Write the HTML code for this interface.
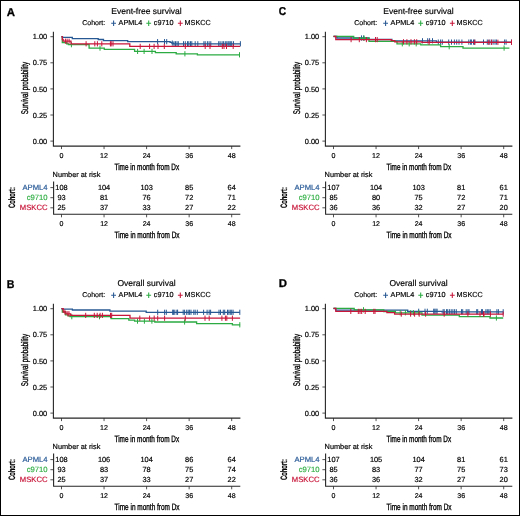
<!DOCTYPE html>
<html><head><meta charset="utf-8"><style>
html,body{margin:0;padding:0;background:#fff;}
#fig{position:relative;width:520px;height:516px;box-sizing:border-box;border:1px solid #000;overflow:hidden;background:#fff;}
svg{position:absolute;left:-1px;top:-1px;will-change:transform;}
text{font-family:"Liberation Sans", sans-serif;text-rendering:geometricPrecision;stroke:currentColor;stroke-width:0.18px;}
.c{stroke-width:0.35px;}
</style></head><body><div id="fig">
<svg width="520" height="516" viewBox="0 0 520 516" fill="#000">
<g transform="translate(0,0)">
<text x="6.7" y="15.5" font-size="11.4" font-weight="bold" style="stroke-width:0.3px" fill="#000">A</text>
<text x="146.5" y="14.2" font-size="8.5" text-anchor="middle">Event-free survival</text>
<text x="82.2" y="25.2" font-size="7">Cohort:</text>
<path d="M111.2 23.3H116M113.6 20.6V26.1" stroke="#275893" stroke-width="1.05" fill="none"/>
<text x="118.6" y="25.2" font-size="7.25">APML4</text>
<path d="M146.3 23.3H151.1M148.7 20.6V26.1" stroke="#2bab42" stroke-width="1.05" fill="none"/>
<text x="153.8" y="25.2" font-size="7.25">c9710</text>
<path d="M177.9 23.3H182.7M180.3 20.6V26.1" stroke="#c8163a" stroke-width="1.05" fill="none"/>
<text x="184.5" y="25.2" font-size="7.25">MSKCC</text>
<path d="M53.4 31.7V146.1H240.4" stroke="#262626" stroke-width="1.1" fill="none"/>
<path d="M50.4 36.7H53.4" stroke="#262626" stroke-width="0.8"/>
<text x="47.2" y="39.3" font-size="7.4" text-anchor="end">1.00</text>
<path d="M50.4 62.8H53.4" stroke="#262626" stroke-width="0.8"/>
<text x="47.2" y="65.4" font-size="7.4" text-anchor="end">0.75</text>
<path d="M50.4 88.9H53.4" stroke="#262626" stroke-width="0.8"/>
<text x="47.2" y="91.5" font-size="7.4" text-anchor="end">0.50</text>
<path d="M50.4 115H53.4" stroke="#262626" stroke-width="0.8"/>
<text x="47.2" y="117.6" font-size="7.4" text-anchor="end">0.25</text>
<path d="M50.4 141.1H53.4" stroke="#262626" stroke-width="0.8"/>
<text x="47.2" y="143.7" font-size="7.4" text-anchor="end">0.00</text>
<path d="M61.5 146.1V149.1" stroke="#262626" stroke-width="0.8"/>
<text x="61.5" y="157.7" font-size="7.1" text-anchor="middle">0</text>
<path d="M104.05 146.1V149.1" stroke="#262626" stroke-width="0.8"/>
<text x="104.05" y="157.7" font-size="7.1" text-anchor="middle">12</text>
<path d="M146.6 146.1V149.1" stroke="#262626" stroke-width="0.8"/>
<text x="146.6" y="157.7" font-size="7.1" text-anchor="middle">24</text>
<path d="M189.15 146.1V149.1" stroke="#262626" stroke-width="0.8"/>
<text x="189.15" y="157.7" font-size="7.1" text-anchor="middle">36</text>
<path d="M231.7 146.1V149.1" stroke="#262626" stroke-width="0.8"/>
<text x="231.7" y="157.7" font-size="7.1" text-anchor="middle">48</text>
<text x="114.5" y="170.1" font-size="9.2" class="c" textLength="64.6" lengthAdjust="spacingAndGlyphs">Time in month from Dx</text>
<text transform="translate(27.7,114.2) rotate(-90)" x="0" y="0" font-size="9.6" class="c" textLength="52.3" lengthAdjust="spacingAndGlyphs">Survival probability</text>
<path d="M61.5 36.6H62.3V42.5H66.7V43.8H68.4V44.7H89.1V48.1H104.3V49.4H134.6V51.4H155.4V52.7H176.2V53.8H197.4V54.8H239.5" stroke="#2bab42" stroke-width="1.3" fill="none"/>
<path d="M71.4 42.1V47.3M100 45.5V50.7M137.6 48.8V54M144.1 48.8V54M152 48.8V54M184.9 51.2V56.4M239.5 52.2V57.4" stroke="#2bab42" stroke-width="1" fill="none"/>
<path d="M61.5 36.6H62.5V37.3H72.3V38.6H98.2V39.5H103.5V40.6H127.7V41.65H170.1V42.4H171.8V43.1H173.5V43.8H240.4" stroke="#275893" stroke-width="1.3" fill="none"/>
<path d="M157.6 39.05V44.25M164.5 39.05V44.25M166.7 39.05V44.25M172.3 40.5V45.7M174 41.2V46.4M175.5 41.2V46.4M177 41.2V46.4M178.3 41.2V46.4M183.5 41.2V46.4M185.3 41.2V46.4M187.5 41.2V46.4M188.8 41.2V46.4M190.5 41.2V46.4M191.8 41.2V46.4M195.2 41.2V46.4M197.8 41.2V46.4M203.9 41.2V46.4M205.2 41.2V46.4M207.4 41.2V46.4M209.1 41.2V46.4M210.8 41.2V46.4M218.7 41.2V46.4M220.1 41.2V46.4M222.1 41.2V46.4M223.6 41.2V46.4M225.3 41.2V46.4M226.8 41.2V46.4M228.1 41.2V46.4M229.1 41.2V46.4M230.3 41.2V46.4M231.7 41.2V46.4M233.5 41.2V46.4M240.4 41.2V46.4" stroke="#275893" stroke-width="1" fill="none"/>
<path d="M61.5 36.6H62.3V39.5H63.2V41.2H71V43.8H129.8V46.4H240.1" stroke="#c8163a" stroke-width="1.3" fill="none"/>
<path d="M65.4 38.6V43.8M67.1 38.6V43.8M69.1 38.6V43.8M86.1 41.2V46.4M94.8 41.2V46.4M97.4 41.2V46.4M101.8 41.2V46.4M110.4 41.2V46.4M111.2 41.2V46.4M113 41.2V46.4M140.2 43.8V49M149.6 43.8V49M154.1 43.8V49M158 43.8V49M164.3 43.8V49M185.3 43.8V49M205.2 43.8V49M210 43.8V49M222.3 43.8V49M224 43.8V49M226.5 43.8V49M233.2 43.8V49" stroke="#c8163a" stroke-width="1" fill="none"/>
<text x="52.6" y="177.4" font-size="7.35">Number at risk</text>
<path d="M53.6 181.4V214.3H240.3" stroke="#262626" stroke-width="1.1" fill="none"/>
<path d="M50.4 187.6H53.6" stroke="#262626" stroke-width="0.8"/>
<text x="47.6" y="190.1" font-size="7.7" text-anchor="end" fill="#2b5c98" style="color:#2b5c98">APML4</text>
<path d="M50.4 197.7H53.6" stroke="#262626" stroke-width="0.8"/>
<text x="47.6" y="200.2" font-size="7.7" text-anchor="end" fill="#35b048" style="color:#35b048">c9710</text>
<path d="M50.4 207.8H53.6" stroke="#262626" stroke-width="0.8"/>
<text x="47.6" y="210.3" font-size="7.7" text-anchor="end" fill="#c8163a" style="color:#c8163a">MSKCC</text>
<text x="61.5" y="190.2" font-size="7.4" text-anchor="middle">108</text>
<text x="104.05" y="190.2" font-size="7.4" text-anchor="middle">104</text>
<text x="146.6" y="190.2" font-size="7.4" text-anchor="middle">103</text>
<text x="189.15" y="190.2" font-size="7.4" text-anchor="middle">85</text>
<text x="231.7" y="190.2" font-size="7.4" text-anchor="middle">64</text>
<text x="61.5" y="200.3" font-size="7.4" text-anchor="middle">93</text>
<text x="104.05" y="200.3" font-size="7.4" text-anchor="middle">81</text>
<text x="146.6" y="200.3" font-size="7.4" text-anchor="middle">76</text>
<text x="189.15" y="200.3" font-size="7.4" text-anchor="middle">72</text>
<text x="231.7" y="200.3" font-size="7.4" text-anchor="middle">71</text>
<text x="61.5" y="210.4" font-size="7.4" text-anchor="middle">25</text>
<text x="104.05" y="210.4" font-size="7.4" text-anchor="middle">37</text>
<text x="146.6" y="210.4" font-size="7.4" text-anchor="middle">33</text>
<text x="189.15" y="210.4" font-size="7.4" text-anchor="middle">27</text>
<text x="231.7" y="210.4" font-size="7.4" text-anchor="middle">22</text>
<path d="M61.5 214.3V217.3" stroke="#262626" stroke-width="0.8"/>
<text x="61.5" y="225.8" font-size="7" text-anchor="middle">0</text>
<path d="M104.05 214.3V217.3" stroke="#262626" stroke-width="0.8"/>
<text x="104.05" y="225.8" font-size="7" text-anchor="middle">12</text>
<path d="M146.6 214.3V217.3" stroke="#262626" stroke-width="0.8"/>
<text x="146.6" y="225.8" font-size="7" text-anchor="middle">24</text>
<path d="M189.15 214.3V217.3" stroke="#262626" stroke-width="0.8"/>
<text x="189.15" y="225.8" font-size="7" text-anchor="middle">36</text>
<path d="M231.7 214.3V217.3" stroke="#262626" stroke-width="0.8"/>
<text x="231.7" y="225.8" font-size="7" text-anchor="middle">48</text>
<text x="114.6" y="238.1" font-size="9.2" class="c" textLength="65" lengthAdjust="spacingAndGlyphs">Time in month from Dx</text>
<text transform="translate(15,207.9) rotate(-90)" x="0" y="0" font-size="9.4" font-weight="bold" textLength="20.8" lengthAdjust="spacingAndGlyphs">Cohort:</text>
</g>
<g transform="translate(0,272)">
<text x="6.7" y="15.6" font-size="11.4" font-weight="bold" style="stroke-width:0.3px" fill="#000" textLength="7.7" lengthAdjust="spacingAndGlyphs">B</text>
<text x="146.5" y="14.2" font-size="8.5" text-anchor="middle">Overall survival</text>
<text x="82.2" y="25.2" font-size="7">Cohort:</text>
<path d="M111.2 23.3H116M113.6 20.6V26.1" stroke="#275893" stroke-width="1.05" fill="none"/>
<text x="118.6" y="25.2" font-size="7.25">APML4</text>
<path d="M146.3 23.3H151.1M148.7 20.6V26.1" stroke="#2bab42" stroke-width="1.05" fill="none"/>
<text x="153.8" y="25.2" font-size="7.25">c9710</text>
<path d="M177.9 23.3H182.7M180.3 20.6V26.1" stroke="#c8163a" stroke-width="1.05" fill="none"/>
<text x="184.5" y="25.2" font-size="7.25">MSKCC</text>
<path d="M53.4 31.7V146.1H240.4" stroke="#262626" stroke-width="1.1" fill="none"/>
<path d="M50.4 36.7H53.4" stroke="#262626" stroke-width="0.8"/>
<text x="47.2" y="39.3" font-size="7.4" text-anchor="end">1.00</text>
<path d="M50.4 62.8H53.4" stroke="#262626" stroke-width="0.8"/>
<text x="47.2" y="65.4" font-size="7.4" text-anchor="end">0.75</text>
<path d="M50.4 88.9H53.4" stroke="#262626" stroke-width="0.8"/>
<text x="47.2" y="91.5" font-size="7.4" text-anchor="end">0.50</text>
<path d="M50.4 115H53.4" stroke="#262626" stroke-width="0.8"/>
<text x="47.2" y="117.6" font-size="7.4" text-anchor="end">0.25</text>
<path d="M50.4 141.1H53.4" stroke="#262626" stroke-width="0.8"/>
<text x="47.2" y="143.7" font-size="7.4" text-anchor="end">0.00</text>
<path d="M61.5 146.1V149.1" stroke="#262626" stroke-width="0.8"/>
<text x="61.5" y="157.7" font-size="7.1" text-anchor="middle">0</text>
<path d="M104.05 146.1V149.1" stroke="#262626" stroke-width="0.8"/>
<text x="104.05" y="157.7" font-size="7.1" text-anchor="middle">12</text>
<path d="M146.6 146.1V149.1" stroke="#262626" stroke-width="0.8"/>
<text x="146.6" y="157.7" font-size="7.1" text-anchor="middle">24</text>
<path d="M189.15 146.1V149.1" stroke="#262626" stroke-width="0.8"/>
<text x="189.15" y="157.7" font-size="7.1" text-anchor="middle">36</text>
<path d="M231.7 146.1V149.1" stroke="#262626" stroke-width="0.8"/>
<text x="231.7" y="157.7" font-size="7.1" text-anchor="middle">48</text>
<text x="114.5" y="170.1" font-size="9.2" class="c" textLength="64.6" lengthAdjust="spacingAndGlyphs">Time in month from Dx</text>
<text transform="translate(27.7,114.2) rotate(-90)" x="0" y="0" font-size="9.6" class="c" textLength="52.3" lengthAdjust="spacingAndGlyphs">Survival probability</text>
<path d="M61.5 36.6H62.3V40H65.5V42.8H68.4V43.9H70V44.7H111V46.6H128.8V48.2H134.6V49.1H154.8V50H196.6V51.7H232.4V52.8H240.1" stroke="#2bab42" stroke-width="1.3" fill="none"/>
<path d="M71.8 42.1V47.3M99.5 42.1V47.3M137.5 46.5V51.7M144.4 46.5V51.7M151.9 46.5V51.7M184.6 47.4V52.6M239.8 50.2V55.4" stroke="#2bab42" stroke-width="1" fill="none"/>
<path d="M61.5 36.6H62.5V37.2H72.4V38H109.9V39.2H146.2V40.3H239.8" stroke="#275893" stroke-width="1.3" fill="none"/>
<path d="M157.7 37.7V42.9M164.6 37.7V42.9M166.3 37.7V42.9M172.7 37.7V42.9M173.4 37.7V42.9M174.8 37.7V42.9M176.9 37.7V42.9M177.6 37.7V42.9M183.2 37.7V42.9M184.6 37.7V42.9M186.7 37.7V42.9M188.2 37.7V42.9M189.6 37.7V42.9M191 37.7V42.9M193.8 37.7V42.9M195.2 37.7V42.9M197.3 37.7V42.9M203.6 37.7V42.9M207.1 37.7V42.9M209.2 37.7V42.9M210.6 37.7V42.9M219 37.7V42.9M220.5 37.7V42.9M223.3 37.7V42.9M224.7 37.7V42.9M227.5 37.7V42.9M228.9 37.7V42.9M230.3 37.7V42.9M231.7 37.7V42.9M233.1 37.7V42.9M239.8 37.7V42.9" stroke="#275893" stroke-width="1" fill="none"/>
<path d="M61.5 36.6H63.2V40H66V41.8H70.7V43.4H130V46.2H240.1" stroke="#c8163a" stroke-width="1.3" fill="none"/>
<path d="M64.9 37.4V42.6M67.8 39.2V44.4M69 39.2V44.4M85.7 40.8V46M94.3 40.8V46M97.2 40.8V46M100.1 40.8V46M102.4 40.8V46M110.5 40.8V46M111.7 40.8V46M139.8 43.6V48.8M149.6 43.6V48.8M154.2 43.6V48.8M157.7 43.6V48.8M164.6 43.6V48.8M185.3 43.6V48.8M205 43.6V48.8M209.2 43.6V48.8M221.9 43.6V48.8M225.4 43.6V48.8M226.8 43.6V48.8M232.4 43.6V48.8" stroke="#c8163a" stroke-width="1" fill="none"/>
<text x="52.6" y="177.4" font-size="7.35">Number at risk</text>
<path d="M53.6 181.4V214.3H240.3" stroke="#262626" stroke-width="1.1" fill="none"/>
<path d="M50.4 187.6H53.6" stroke="#262626" stroke-width="0.8"/>
<text x="47.6" y="190.1" font-size="7.7" text-anchor="end" fill="#2b5c98" style="color:#2b5c98">APML4</text>
<path d="M50.4 197.7H53.6" stroke="#262626" stroke-width="0.8"/>
<text x="47.6" y="200.2" font-size="7.7" text-anchor="end" fill="#35b048" style="color:#35b048">c9710</text>
<path d="M50.4 207.8H53.6" stroke="#262626" stroke-width="0.8"/>
<text x="47.6" y="210.3" font-size="7.7" text-anchor="end" fill="#c8163a" style="color:#c8163a">MSKCC</text>
<text x="61.5" y="190.2" font-size="7.4" text-anchor="middle">108</text>
<text x="104.05" y="190.2" font-size="7.4" text-anchor="middle">106</text>
<text x="146.6" y="190.2" font-size="7.4" text-anchor="middle">104</text>
<text x="189.15" y="190.2" font-size="7.4" text-anchor="middle">86</text>
<text x="231.7" y="190.2" font-size="7.4" text-anchor="middle">64</text>
<text x="61.5" y="200.3" font-size="7.4" text-anchor="middle">93</text>
<text x="104.05" y="200.3" font-size="7.4" text-anchor="middle">83</text>
<text x="146.6" y="200.3" font-size="7.4" text-anchor="middle">78</text>
<text x="189.15" y="200.3" font-size="7.4" text-anchor="middle">75</text>
<text x="231.7" y="200.3" font-size="7.4" text-anchor="middle">74</text>
<text x="61.5" y="210.4" font-size="7.4" text-anchor="middle">25</text>
<text x="104.05" y="210.4" font-size="7.4" text-anchor="middle">37</text>
<text x="146.6" y="210.4" font-size="7.4" text-anchor="middle">33</text>
<text x="189.15" y="210.4" font-size="7.4" text-anchor="middle">27</text>
<text x="231.7" y="210.4" font-size="7.4" text-anchor="middle">22</text>
<path d="M61.5 214.3V217.3" stroke="#262626" stroke-width="0.8"/>
<text x="61.5" y="225.8" font-size="7" text-anchor="middle">0</text>
<path d="M104.05 214.3V217.3" stroke="#262626" stroke-width="0.8"/>
<text x="104.05" y="225.8" font-size="7" text-anchor="middle">12</text>
<path d="M146.6 214.3V217.3" stroke="#262626" stroke-width="0.8"/>
<text x="146.6" y="225.8" font-size="7" text-anchor="middle">24</text>
<path d="M189.15 214.3V217.3" stroke="#262626" stroke-width="0.8"/>
<text x="189.15" y="225.8" font-size="7" text-anchor="middle">36</text>
<path d="M231.7 214.3V217.3" stroke="#262626" stroke-width="0.8"/>
<text x="231.7" y="225.8" font-size="7" text-anchor="middle">48</text>
<text x="114.6" y="238.1" font-size="9.2" class="c" textLength="65" lengthAdjust="spacingAndGlyphs">Time in month from Dx</text>
<text transform="translate(15,207.9) rotate(-90)" x="0" y="0" font-size="9.4" font-weight="bold" textLength="20.8" lengthAdjust="spacingAndGlyphs">Cohort:</text>
</g>
<g transform="translate(272,0)">
<text x="6.7" y="15.3" font-size="11.4" font-weight="bold" style="stroke-width:0.3px" fill="#000" textLength="7.4" lengthAdjust="spacingAndGlyphs">C</text>
<text x="146.5" y="14.2" font-size="8.5" text-anchor="middle">Event-free survival</text>
<text x="82.2" y="25.2" font-size="7">Cohort:</text>
<path d="M111.2 23.3H116M113.6 20.6V26.1" stroke="#275893" stroke-width="1.05" fill="none"/>
<text x="118.6" y="25.2" font-size="7.25">APML4</text>
<path d="M146.3 23.3H151.1M148.7 20.6V26.1" stroke="#2bab42" stroke-width="1.05" fill="none"/>
<text x="153.8" y="25.2" font-size="7.25">c9710</text>
<path d="M177.9 23.3H182.7M180.3 20.6V26.1" stroke="#c8163a" stroke-width="1.05" fill="none"/>
<text x="184.5" y="25.2" font-size="7.25">MSKCC</text>
<path d="M53.4 31.7V146.1H240.4" stroke="#262626" stroke-width="1.1" fill="none"/>
<path d="M50.4 36.7H53.4" stroke="#262626" stroke-width="0.8"/>
<text x="47.2" y="39.3" font-size="7.4" text-anchor="end">1.00</text>
<path d="M50.4 62.8H53.4" stroke="#262626" stroke-width="0.8"/>
<text x="47.2" y="65.4" font-size="7.4" text-anchor="end">0.75</text>
<path d="M50.4 88.9H53.4" stroke="#262626" stroke-width="0.8"/>
<text x="47.2" y="91.5" font-size="7.4" text-anchor="end">0.50</text>
<path d="M50.4 115H53.4" stroke="#262626" stroke-width="0.8"/>
<text x="47.2" y="117.6" font-size="7.4" text-anchor="end">0.25</text>
<path d="M50.4 141.1H53.4" stroke="#262626" stroke-width="0.8"/>
<text x="47.2" y="143.7" font-size="7.4" text-anchor="end">0.00</text>
<path d="M61.5 146.1V149.1" stroke="#262626" stroke-width="0.8"/>
<text x="61.5" y="157.7" font-size="7.1" text-anchor="middle">0</text>
<path d="M104.05 146.1V149.1" stroke="#262626" stroke-width="0.8"/>
<text x="104.05" y="157.7" font-size="7.1" text-anchor="middle">12</text>
<path d="M146.6 146.1V149.1" stroke="#262626" stroke-width="0.8"/>
<text x="146.6" y="157.7" font-size="7.1" text-anchor="middle">24</text>
<path d="M189.15 146.1V149.1" stroke="#262626" stroke-width="0.8"/>
<text x="189.15" y="157.7" font-size="7.1" text-anchor="middle">36</text>
<path d="M231.7 146.1V149.1" stroke="#262626" stroke-width="0.8"/>
<text x="231.7" y="157.7" font-size="7.1" text-anchor="middle">48</text>
<text x="114.5" y="170.1" font-size="9.2" class="c" textLength="64.6" lengthAdjust="spacingAndGlyphs">Time in month from Dx</text>
<text transform="translate(27.7,114.2) rotate(-90)" x="0" y="0" font-size="9.6" class="c" textLength="52.3" lengthAdjust="spacingAndGlyphs">Survival probability</text>
<path d="M61.5 36.5H64.9V38H97V39.5H119.9V40.8H164.5V42.1H239.5" stroke="#275893" stroke-width="1.3" fill="none"/>
<path d="M89.5 35.4V40.6M91.6 35.4V40.6M150.5 38.2V43.4M155.7 38.2V43.4M157.6 38.2V43.4M160.5 38.2V43.4M166.3 39.5V44.7M168.6 39.5V44.7M170.3 39.5V44.7M176.7 39.5V44.7M179.5 39.5V44.7M182.4 39.5V44.7M184.7 39.5V44.7M187 39.5V44.7M189.9 39.5V44.7M196.8 39.5V44.7M198.6 39.5V44.7M199.4 39.5V44.7M201.5 39.5V44.7M202.8 39.5V44.7M211.5 39.5V44.7M215.3 39.5V44.7M217.2 39.5V44.7M219.2 39.5V44.7M221.1 39.5V44.7M223 39.5V44.7M224.4 39.5V44.7M232.6 39.5V44.7M234.1 39.5V44.7M239.5 39.5V44.7" stroke="#275893" stroke-width="1" fill="none"/>
<path d="M61.5 36.4H81.7V38.2H97V41.3H125V43.8H148.8V44.9H168.6V46.7H191V48.1H237.4" stroke="#2bab42" stroke-width="1.3" fill="none"/>
<path d="M92.1 35.6V40.8M130.3 41.2V46.4M137.2 41.2V46.4M144.2 41.2V46.4M177.2 44.1V49.3M232.1 45.5V50.7" stroke="#2bab42" stroke-width="1" fill="none"/>
<path d="M61.5 36.4H63.8V39.6H119.3V40.6H122.8V41.8H150V42.3H239.5" stroke="#c8163a" stroke-width="1.3" fill="none"/>
<path d="M79.1 37V42.2M87.3 37V42.2M94.4 37V42.2M103.5 37V42.2M105.2 37V42.2M131.5 39.2V44.4M134.9 39.2V44.4M139 39.2V44.4M142.4 39.2V44.4M144.7 39.2V44.4M157 39.7V44.9M202.7 39.7V44.9M216.8 39.7V44.9M219.6 39.7V44.9M225.9 39.7V44.9M239.5 39.7V44.9" stroke="#c8163a" stroke-width="1" fill="none"/>
<text x="52.6" y="177.4" font-size="7.35">Number at risk</text>
<path d="M53.6 181.4V214.3H240.3" stroke="#262626" stroke-width="1.1" fill="none"/>
<path d="M50.4 187.6H53.6" stroke="#262626" stroke-width="0.8"/>
<text x="47.6" y="190.1" font-size="7.7" text-anchor="end" fill="#2b5c98" style="color:#2b5c98">APML4</text>
<path d="M50.4 197.7H53.6" stroke="#262626" stroke-width="0.8"/>
<text x="47.6" y="200.2" font-size="7.7" text-anchor="end" fill="#35b048" style="color:#35b048">c9710</text>
<path d="M50.4 207.8H53.6" stroke="#262626" stroke-width="0.8"/>
<text x="47.6" y="210.3" font-size="7.7" text-anchor="end" fill="#c8163a" style="color:#c8163a">MSKCC</text>
<text x="61.5" y="190.2" font-size="7.4" text-anchor="middle">107</text>
<text x="104.05" y="190.2" font-size="7.4" text-anchor="middle">104</text>
<text x="146.6" y="190.2" font-size="7.4" text-anchor="middle">103</text>
<text x="189.15" y="190.2" font-size="7.4" text-anchor="middle">81</text>
<text x="231.7" y="190.2" font-size="7.4" text-anchor="middle">61</text>
<text x="61.5" y="200.3" font-size="7.4" text-anchor="middle">85</text>
<text x="104.05" y="200.3" font-size="7.4" text-anchor="middle">80</text>
<text x="146.6" y="200.3" font-size="7.4" text-anchor="middle">75</text>
<text x="189.15" y="200.3" font-size="7.4" text-anchor="middle">72</text>
<text x="231.7" y="200.3" font-size="7.4" text-anchor="middle">71</text>
<text x="61.5" y="210.4" font-size="7.4" text-anchor="middle">36</text>
<text x="104.05" y="210.4" font-size="7.4" text-anchor="middle">36</text>
<text x="146.6" y="210.4" font-size="7.4" text-anchor="middle">32</text>
<text x="189.15" y="210.4" font-size="7.4" text-anchor="middle">27</text>
<text x="231.7" y="210.4" font-size="7.4" text-anchor="middle">20</text>
<path d="M61.5 214.3V217.3" stroke="#262626" stroke-width="0.8"/>
<text x="61.5" y="225.8" font-size="7" text-anchor="middle">0</text>
<path d="M104.05 214.3V217.3" stroke="#262626" stroke-width="0.8"/>
<text x="104.05" y="225.8" font-size="7" text-anchor="middle">12</text>
<path d="M146.6 214.3V217.3" stroke="#262626" stroke-width="0.8"/>
<text x="146.6" y="225.8" font-size="7" text-anchor="middle">24</text>
<path d="M189.15 214.3V217.3" stroke="#262626" stroke-width="0.8"/>
<text x="189.15" y="225.8" font-size="7" text-anchor="middle">36</text>
<path d="M231.7 214.3V217.3" stroke="#262626" stroke-width="0.8"/>
<text x="231.7" y="225.8" font-size="7" text-anchor="middle">48</text>
<text x="114.6" y="238.1" font-size="9.2" class="c" textLength="65" lengthAdjust="spacingAndGlyphs">Time in month from Dx</text>
<text transform="translate(15,207.9) rotate(-90)" x="0" y="0" font-size="9.4" font-weight="bold" textLength="20.8" lengthAdjust="spacingAndGlyphs">Cohort:</text>
</g>
<g transform="translate(272,272)">
<text x="6.7" y="15.3" font-size="11.4" font-weight="bold" style="stroke-width:0.3px" fill="#000">D</text>
<text x="146.5" y="14.2" font-size="8.5" text-anchor="middle">Overall survival</text>
<text x="82.2" y="25.2" font-size="7">Cohort:</text>
<path d="M111.2 23.3H116M113.6 20.6V26.1" stroke="#275893" stroke-width="1.05" fill="none"/>
<text x="118.6" y="25.2" font-size="7.25">APML4</text>
<path d="M146.3 23.3H151.1M148.7 20.6V26.1" stroke="#2bab42" stroke-width="1.05" fill="none"/>
<text x="153.8" y="25.2" font-size="7.25">c9710</text>
<path d="M177.9 23.3H182.7M180.3 20.6V26.1" stroke="#c8163a" stroke-width="1.05" fill="none"/>
<text x="184.5" y="25.2" font-size="7.25">MSKCC</text>
<path d="M53.4 31.7V146.1H240.4" stroke="#262626" stroke-width="1.1" fill="none"/>
<path d="M50.4 36.7H53.4" stroke="#262626" stroke-width="0.8"/>
<text x="47.2" y="39.3" font-size="7.4" text-anchor="end">1.00</text>
<path d="M50.4 62.8H53.4" stroke="#262626" stroke-width="0.8"/>
<text x="47.2" y="65.4" font-size="7.4" text-anchor="end">0.75</text>
<path d="M50.4 88.9H53.4" stroke="#262626" stroke-width="0.8"/>
<text x="47.2" y="91.5" font-size="7.4" text-anchor="end">0.50</text>
<path d="M50.4 115H53.4" stroke="#262626" stroke-width="0.8"/>
<text x="47.2" y="117.6" font-size="7.4" text-anchor="end">0.25</text>
<path d="M50.4 141.1H53.4" stroke="#262626" stroke-width="0.8"/>
<text x="47.2" y="143.7" font-size="7.4" text-anchor="end">0.00</text>
<path d="M61.5 146.1V149.1" stroke="#262626" stroke-width="0.8"/>
<text x="61.5" y="157.7" font-size="7.1" text-anchor="middle">0</text>
<path d="M104.05 146.1V149.1" stroke="#262626" stroke-width="0.8"/>
<text x="104.05" y="157.7" font-size="7.1" text-anchor="middle">12</text>
<path d="M146.6 146.1V149.1" stroke="#262626" stroke-width="0.8"/>
<text x="146.6" y="157.7" font-size="7.1" text-anchor="middle">24</text>
<path d="M189.15 146.1V149.1" stroke="#262626" stroke-width="0.8"/>
<text x="189.15" y="157.7" font-size="7.1" text-anchor="middle">36</text>
<path d="M231.7 146.1V149.1" stroke="#262626" stroke-width="0.8"/>
<text x="231.7" y="157.7" font-size="7.1" text-anchor="middle">48</text>
<text x="114.5" y="170.1" font-size="9.2" class="c" textLength="64.6" lengthAdjust="spacingAndGlyphs">Time in month from Dx</text>
<text transform="translate(27.7,114.2) rotate(-90)" x="0" y="0" font-size="9.6" class="c" textLength="52.3" lengthAdjust="spacingAndGlyphs">Survival probability</text>
<path d="M61.5 36.5H63.8V38.2H135.7V39.3H170V39.8H231.2" stroke="#275893" stroke-width="1.3" fill="none"/>
<path d="M146.7 36.7V41.9M153 36.7V41.9M155.3 36.7V41.9M161.7 36.7V41.9M162.8 36.7V41.9M164 36.7V41.9M165.1 36.7V41.9M171.1 37.2V42.4M172.2 37.2V42.4M174.5 37.2V42.4M175.7 37.2V42.4M177.4 37.2V42.4M179.2 37.2V42.4M180.9 37.2V42.4M182.6 37.2V42.4M184.3 37.2V42.4M189.5 37.2V42.4M190.7 37.2V42.4M194.2 37.2V42.4M195.9 37.2V42.4M197 37.2V42.4M204.7 37.2V42.4M205.7 37.2V42.4M209.5 37.2V42.4M210.5 37.2V42.4M213.9 37.2V42.4M215.3 37.2V42.4M216.8 37.2V42.4M218.2 37.2V42.4M224.9 37.2V42.4M226.4 37.2V42.4M231.2 37.2V42.4" stroke="#275893" stroke-width="1" fill="none"/>
<path d="M61.5 36.3H82.2V37.8H111.8V39.5H123.4V40.8H150V43.1H187.3V44.6H218V46H231.2" stroke="#2bab42" stroke-width="1.3" fill="none"/>
<path d="M91.5 35.2V40.4M128.2 38.2V43.4M133.4 38.2V43.4M138.6 38.2V43.4M141.5 38.2V43.4M146.7 38.2V43.4M224.4 43.4V48.6" stroke="#2bab42" stroke-width="1" fill="none"/>
<path d="M61.5 36.3H63.8V39.4H114.9V40.6H122.6V42.1H231.2" stroke="#c8163a" stroke-width="1.3" fill="none"/>
<path d="M78.8 36.8V42M86.3 36.8V42M88 36.8V42M89.7 36.8V42M93.2 36.8V42M101.8 36.8V42M103 36.8V42M129.3 39.5V44.7M138.6 39.5V44.7M142.6 39.5V44.7M147.2 39.5V44.7M153.6 39.5V44.7M172.2 39.5V44.7M195.9 39.5V44.7M208 39.5V44.7M211.5 39.5V44.7M212 39.5V44.7M218.4 39.5V44.7M231.2 39.5V44.7" stroke="#c8163a" stroke-width="1" fill="none"/>
<text x="52.6" y="177.4" font-size="7.35">Number at risk</text>
<path d="M53.6 181.4V214.3H240.3" stroke="#262626" stroke-width="1.1" fill="none"/>
<path d="M50.4 187.6H53.6" stroke="#262626" stroke-width="0.8"/>
<text x="47.6" y="190.1" font-size="7.7" text-anchor="end" fill="#2b5c98" style="color:#2b5c98">APML4</text>
<path d="M50.4 197.7H53.6" stroke="#262626" stroke-width="0.8"/>
<text x="47.6" y="200.2" font-size="7.7" text-anchor="end" fill="#35b048" style="color:#35b048">c9710</text>
<path d="M50.4 207.8H53.6" stroke="#262626" stroke-width="0.8"/>
<text x="47.6" y="210.3" font-size="7.7" text-anchor="end" fill="#c8163a" style="color:#c8163a">MSKCC</text>
<text x="61.5" y="190.2" font-size="7.4" text-anchor="middle">107</text>
<text x="104.05" y="190.2" font-size="7.4" text-anchor="middle">105</text>
<text x="146.6" y="190.2" font-size="7.4" text-anchor="middle">104</text>
<text x="189.15" y="190.2" font-size="7.4" text-anchor="middle">81</text>
<text x="231.7" y="190.2" font-size="7.4" text-anchor="middle">61</text>
<text x="61.5" y="200.3" font-size="7.4" text-anchor="middle">85</text>
<text x="104.05" y="200.3" font-size="7.4" text-anchor="middle">83</text>
<text x="146.6" y="200.3" font-size="7.4" text-anchor="middle">77</text>
<text x="189.15" y="200.3" font-size="7.4" text-anchor="middle">75</text>
<text x="231.7" y="200.3" font-size="7.4" text-anchor="middle">73</text>
<text x="61.5" y="210.4" font-size="7.4" text-anchor="middle">36</text>
<text x="104.05" y="210.4" font-size="7.4" text-anchor="middle">36</text>
<text x="146.6" y="210.4" font-size="7.4" text-anchor="middle">32</text>
<text x="189.15" y="210.4" font-size="7.4" text-anchor="middle">27</text>
<text x="231.7" y="210.4" font-size="7.4" text-anchor="middle">20</text>
<path d="M61.5 214.3V217.3" stroke="#262626" stroke-width="0.8"/>
<text x="61.5" y="225.8" font-size="7" text-anchor="middle">0</text>
<path d="M104.05 214.3V217.3" stroke="#262626" stroke-width="0.8"/>
<text x="104.05" y="225.8" font-size="7" text-anchor="middle">12</text>
<path d="M146.6 214.3V217.3" stroke="#262626" stroke-width="0.8"/>
<text x="146.6" y="225.8" font-size="7" text-anchor="middle">24</text>
<path d="M189.15 214.3V217.3" stroke="#262626" stroke-width="0.8"/>
<text x="189.15" y="225.8" font-size="7" text-anchor="middle">36</text>
<path d="M231.7 214.3V217.3" stroke="#262626" stroke-width="0.8"/>
<text x="231.7" y="225.8" font-size="7" text-anchor="middle">48</text>
<text x="114.6" y="238.1" font-size="9.2" class="c" textLength="65" lengthAdjust="spacingAndGlyphs">Time in month from Dx</text>
<text transform="translate(15,207.9) rotate(-90)" x="0" y="0" font-size="9.4" font-weight="bold" textLength="20.8" lengthAdjust="spacingAndGlyphs">Cohort:</text>
</g>
</svg></div></body></html>
